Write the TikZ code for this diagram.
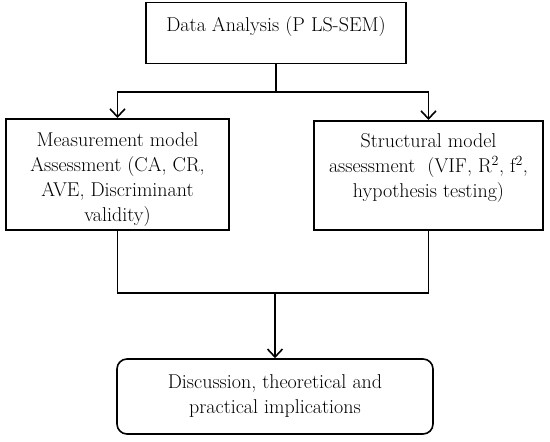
\documentclass[tikz,border=0pt]{standalone}
\usepackage{tikz}
\usetikzlibrary{arrows.meta,positioning}
\tikzset{block/.style = {draw, rectangle, line width = 1.6pt, inner sep = 0pt, align = center},
         endblock/.style = {block, rounded corners = 10pt},
         line/.style = {line width = 1.6pt},
         arrow/.style = {line, -{Straight Barb[length = 8pt, width = 15pt, line width = 1.6pt]}},
         junction/.style = {coordinate},
}

\begin{document}
\begin{tikzpicture}[x = 1pt, y = -1pt, font = \fontsize{20}{25}\selectfont]
  \useasboundingbox (0,0) rectangle (550,442);

  \node[block, minimum width = 260pt, text height = 29pt, text depth = 32pt] at (276,33) (analysis) {Data Analysis (P LS-SEM)};
  \node[block, minimum width = 223pt, text height = 103pt, text depth = 8pt, anchor = north] at (117.5,118) (measure) {Measurement model\\Assessment (CA, CR,\\AVE, Discriminant\\validity)};
  \node[block, minimum width = 229pt, text height = 77pt, text depth = 32pt, anchor = north] at (428.5,120) (struct) {Structural model\\assessment~ (VIF, R\textsuperscript{2}, f\textsuperscript{2},\\hypothesis testing)};
  \node[endblock, minimum width = 316pt, minimum height = 75pt] at (275,396.5) (disc) {Discussion, theoretical and\\practical implications};

  \node[junction] at (276,92) (split) {};
  \node[junction] at (275,293) (join) {};

  \draw[line] (analysis.south) -- (split);
  \draw[arrow] (split) -| (measure.north);
  \draw[arrow] (split) -| (struct.north);
  \draw[line] (measure.south) |- (join);
  \draw[line] (struct.south) |- (join);
  \draw[arrow] (join) -- (disc.north);

\end{tikzpicture}
\end{document}
